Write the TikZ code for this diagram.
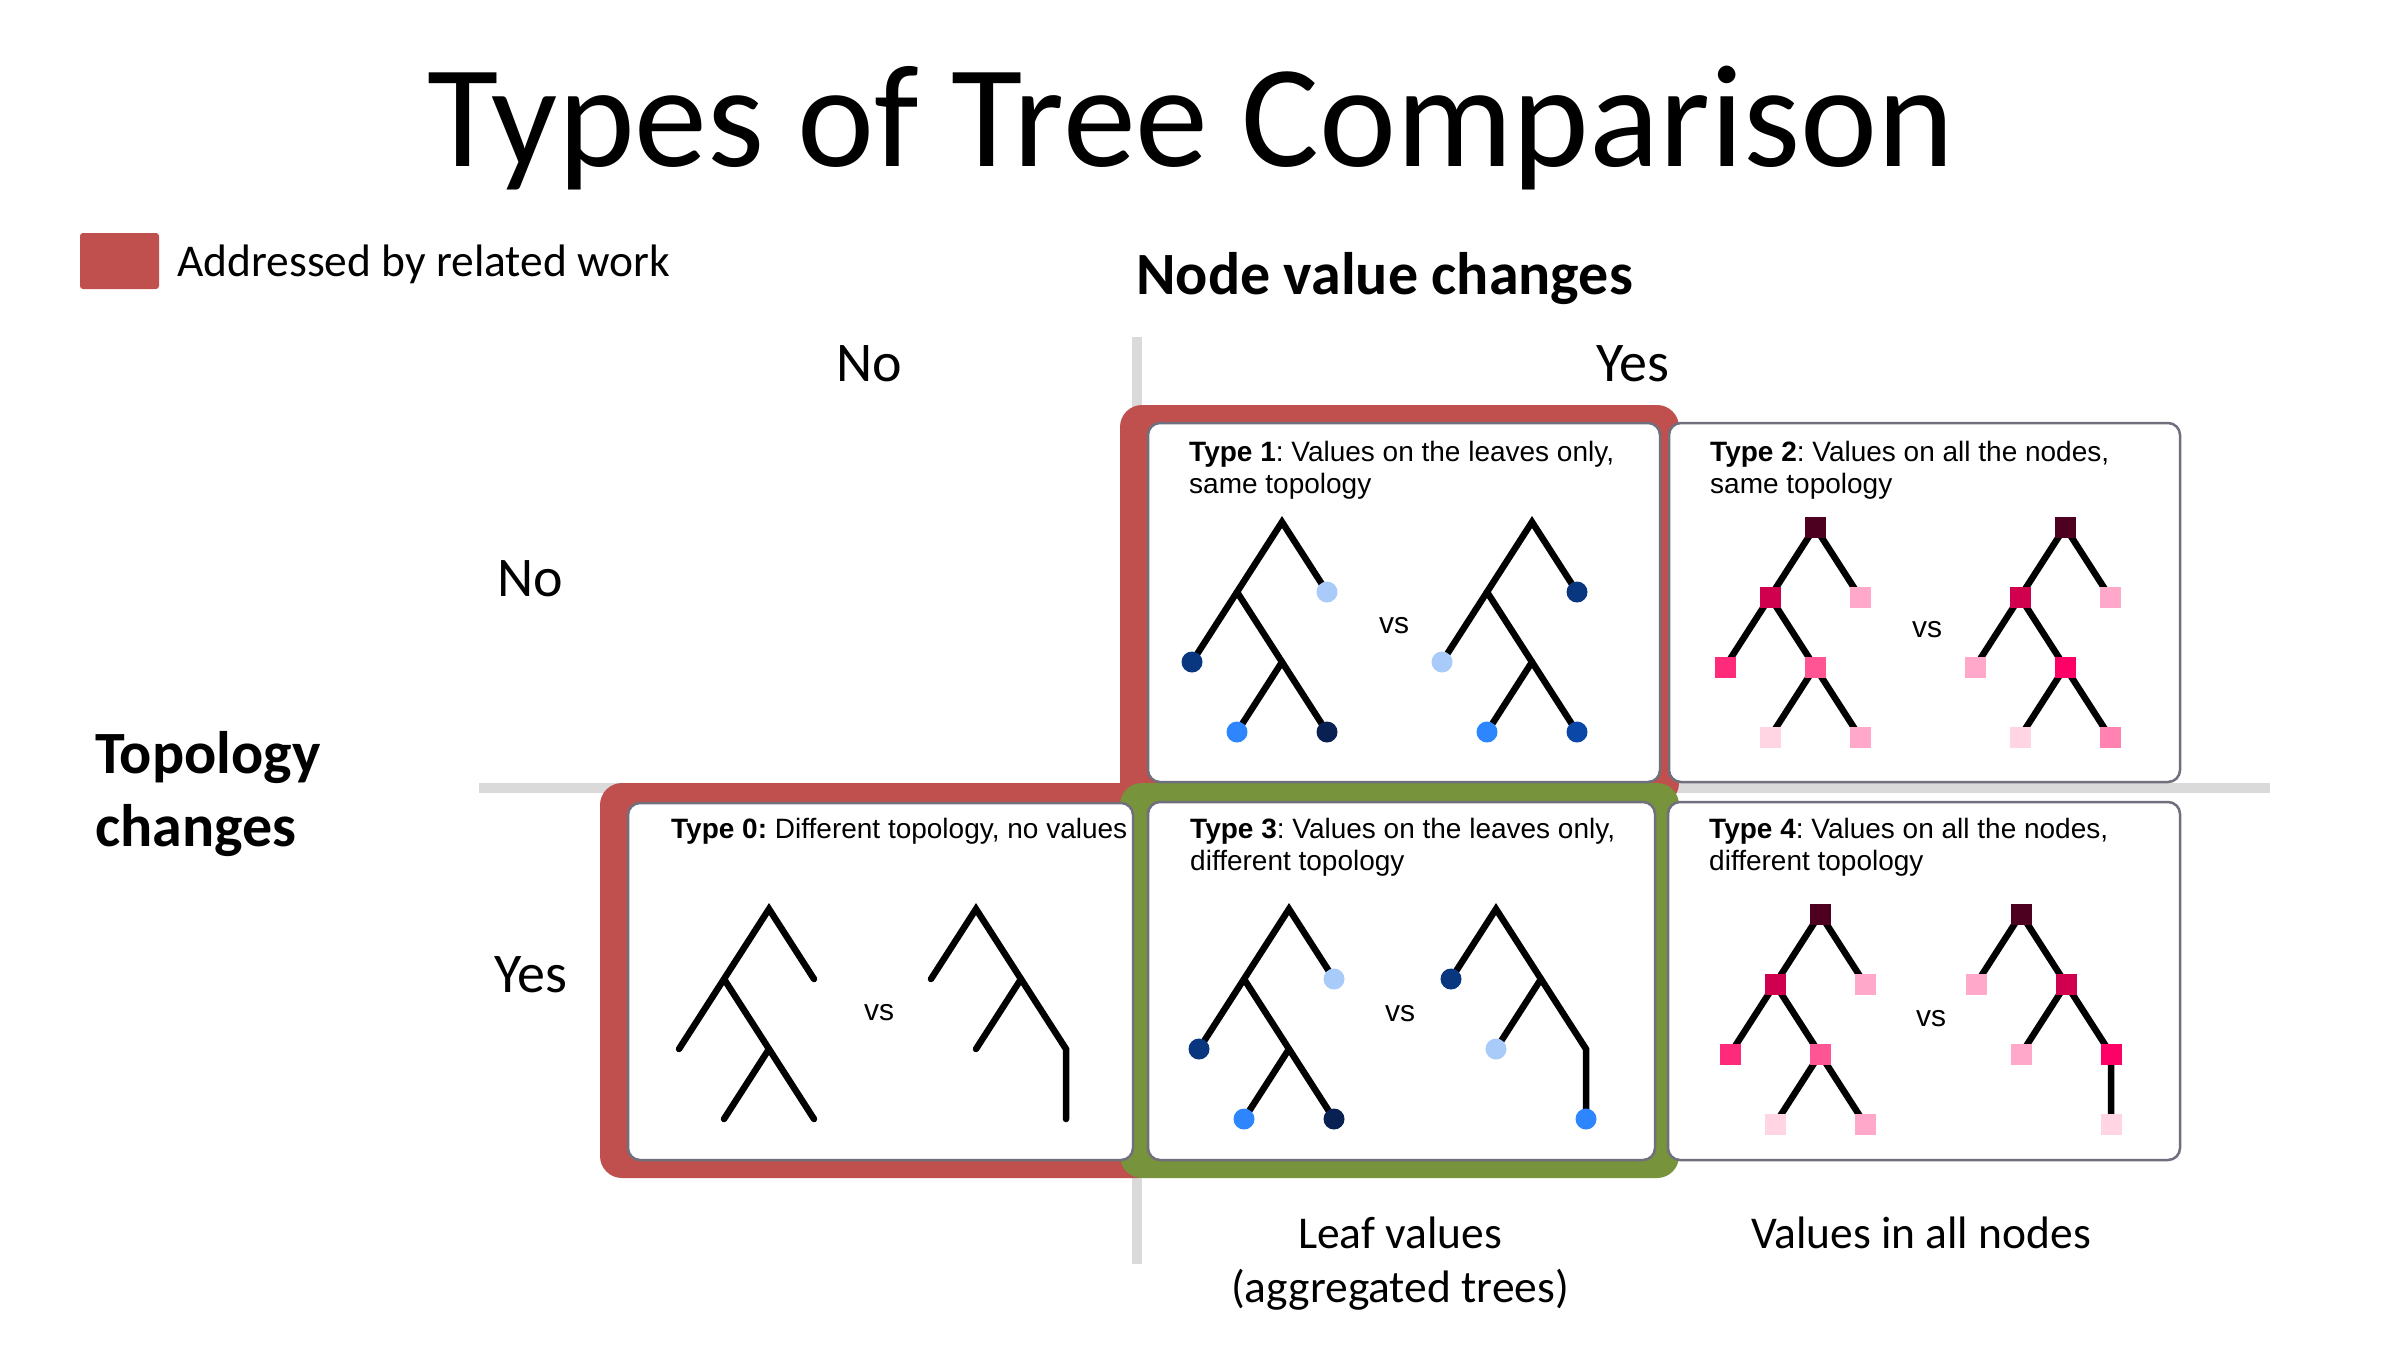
\documentclass[tikz,border=0pt]{standalone}
\usepackage{fontspec}
\setmainfont{Carlito}
\newfontfamily\panelfont{Liberation Sans}
\frenchspacing

\definecolor{relred}{HTML}{C0504D}
\definecolor{ourgreen}{HTML}{77933C}
\definecolor{axisgray}{HTML}{DADADA}
\definecolor{panelrim}{HTML}{6F6F7D}
\definecolor{blueL}{HTML}{A9CBFA}
\definecolor{blueB}{HTML}{2E86FF}
\definecolor{navyA}{HTML}{08367F}
\definecolor{navyB}{HTML}{082152}
\definecolor{navyC}{HTML}{0A47A6}
\definecolor{maroon}{HTML}{4D0020}
\definecolor{crimson}{HTML}{D1004F}
\definecolor{pinkL}{HTML}{FFA8C9}
\definecolor{pinkHot}{HTML}{FF2A7A}
\definecolor{pinkMed}{HTML}{FF5595}
\definecolor{pinkVL}{HTML}{FFD5E3}
\definecolor{pinkRed}{HTML}{FF0066}
\definecolor{pinkMid}{HTML}{FF82B0}

\newcommand\ttlsize{\fontsize{146}{172}\selectfont}
\newcommand\hdsize{\bfseries\fontsize{60}{72}\selectfont}
\newcommand\lblsize{\fontsize{56}{66}\selectfont}
\newcommand\smsize{\fontsize{45.5}{54}\selectfont}
\newcommand\boxsize{\panelfont\fontsize{28}{33}\selectfont}
\newcommand\vssize{\panelfont\fontsize{30}{36}\selectfont}

% balanced tree: root r; r -> a (inner), b (leaf); a -> c (leaf), d (inner); d -> e, f
\newcommand\fulltree[3]{%
  \coordinate (#1r) at (#2,#3);
  \coordinate (#1a) at (#2-45,#3+70);
  \coordinate (#1b) at (#2+45,#3+70);
  \coordinate (#1c) at (#2-90,#3+140);
  \coordinate (#1d) at (#2,#3+140);
  \coordinate (#1e) at (#2-45,#3+210);
  \coordinate (#1f) at (#2+45,#3+210);
  \draw[treeline] (#1c) -- (#1a) -- (#1r) -- (#1b);
  \draw[treeline] (#1a) -- (#1d) -- (#1f);
  \draw[treeline] (#1d) -- (#1e);}

% lopsided tree: root r; r -> l (leaf), m (inner); m -> n (leaf), p; p -> q (leaf)
\newcommand\sidetree[3]{%
  \coordinate (#1r) at (#2,#3);
  \coordinate (#1l) at (#2-45,#3+70);
  \coordinate (#1m) at (#2+45,#3+70);
  \coordinate (#1n) at (#2,#3+140);
  \coordinate (#1p) at (#2+90,#3+140);
  \coordinate (#1q) at (#2+90,#3+210);
  \draw[treeline] (#1l) -- (#1r) -- (#1m) -- (#1p) -- (#1q);
  \draw[treeline] (#1m) -- (#1n);}

\newcommand\dotat[2]{\node[leafdot, fill=#2] (#1v) at (#1) {};}
\newcommand\sqat[2]{\node[valsq, fill=#2] (#1v) at (#1) {};}

\begin{document}
\begin{tikzpicture}[x=1pt, y=-1pt,
  lab/.style={inner sep=0pt, anchor=base west},
  labc/.style={inner sep=0pt, anchor=base},
  axis/.style={draw=axisgray, line width=10pt},
  relframe/.style={fill=relred, rounded corners=22pt},
  ourframe/.style={fill=ourgreen, rounded corners=22pt},
  panel/.style={draw=panelrim, line width=2.5pt, fill=white, rounded corners=12pt},
  treeline/.style={line width=6.5pt, line cap=round, line join=miter, black},
  leafdot/.style={circle, inner sep=0pt, minimum size=21pt},
  valsq/.style={rectangle, inner sep=0pt, minimum size=21pt},
  vslabel/.style={inner sep=0pt, anchor=center, font=\vssize}]

\useasboundingbox[fill=white] (0,0) rectangle (2400,1350);

% title and legend
\node[labc] (title) at (1191,166) {\ttlsize Types of Tree Comparison};
\node[fill=relred, rounded corners=3pt, minimum width=79pt, minimum height=56pt, inner sep=0pt] (key) at (119.5,261) {};
\node[lab] (keytext) at (177,276) {\smsize Addressed by related work};

% axes
\draw[axis] (1137,337) -- (1137,1264);
\draw[axis] (479,788) -- (2270,788);

% axis headings
\node[lab] (colhead) at (1136,294) {\hdsize Node value changes};
\node[labc] (colno) at (869,381) {\lblsize No};
\node[labc] (colyes) at (1633,381) {\lblsize Yes};
\node[lab] (rowhead1) at (95,773) {\hdsize Topology};
\node[lab] (rowhead2) at (95,846) {\hdsize changes};
\node[lab] (rowno) at (497,596) {\lblsize No};
\node[lab] (rowyes) at (494,992) {\lblsize Yes};
\node[labc] (leafcap1) at (1400,1248) {\smsize Leaf values};
\node[labc] (leafcap2) at (1400,1302) {\smsize (aggregated trees)};
\node[labc] (allcap) at (1921,1248) {\smsize Values in all nodes};

% highlight frames
\path[relframe] (1120,405) rectangle (1679,805);
\path[relframe] (600,783) rectangle (1160,1178);
\path[ourframe] (1120,783) rectangle (1679,1178);

% panels
\path[panel] (628,803) rectangle (1133,1160);
\path[panel] (1148,423) rectangle (1660,782);
\path[panel] (1669,423) rectangle (2180,782);
\path[panel] (1148,802) rectangle (1655,1160);
\path[panel] (1668,802) rectangle (2180,1160);

% ---- Type 0
\node[lab] (cap0) at (671,838) {\boxsize\textbf{Type 0:} Different topology, no values};
\fulltree{z}{769}{909}
\sidetree{y}{976}{909}
\node[vslabel] (vs0) at (879,1013) {vs};

% ---- Type 1
\node[lab] (cap1a) at (1189,461) {\boxsize\textbf{Type 1}: Values on the leaves only,};
\node[lab] (cap1b) at (1189,493) {\boxsize same topology};
\fulltree{o}{1282}{522}
\fulltree{w}{1532}{522}
\node[vslabel] (vs1) at (1394,626) {vs};
\dotat{ob}{blueL} \dotat{oc}{navyA} \dotat{oe}{blueB} \dotat{of}{navyB}
\dotat{wb}{navyA} \dotat{wc}{blueL} \dotat{we}{blueB} \dotat{wf}{navyC}

% ---- Type 2
\node[lab] (cap2a) at (1710,461) {\boxsize\textbf{Type 2}: Values on all the nodes,};
\node[lab] (cap2b) at (1710,493) {\boxsize same topology};
\fulltree{t}{1815}{527}
\fulltree{u}{2065}{527}
\node[vslabel] (vs2) at (1927,630) {vs};
\sqat{tr}{maroon} \sqat{ta}{crimson} \sqat{tb}{pinkL} \sqat{tc}{pinkHot}
\sqat{td}{pinkMed} \sqat{te}{pinkVL} \sqat{tf}{pinkL}
\sqat{ur}{maroon} \sqat{ua}{crimson} \sqat{ub}{pinkL} \sqat{uc}{pinkL}
\sqat{ud}{pinkRed} \sqat{ue}{pinkVL} \sqat{uf}{pinkMid}

% ---- Type 3
\node[lab] (cap3a) at (1190,838) {\boxsize\textbf{Type 3}: Values on the leaves only,};
\node[lab] (cap3b) at (1190,870) {\boxsize different topology};
\fulltree{g}{1289}{909}
\sidetree{h}{1496}{909}
\node[vslabel] (vs3) at (1400,1014) {vs};
\dotat{gb}{blueL} \dotat{gc}{navyA} \dotat{ge}{blueB} \dotat{gf}{navyB}
\dotat{hl}{navyA} \dotat{hn}{blueL} \dotat{hq}{blueB}

% ---- Type 4
\node[lab] (cap4a) at (1709,838) {\boxsize\textbf{Type 4}: Values on all the nodes,};
\node[lab] (cap4b) at (1709,870) {\boxsize different topology};
\fulltree{k}{1820}{914}
\sidetree{m}{2021}{914}
\node[vslabel] (vs4) at (1931,1019) {vs};
\sqat{kr}{maroon} \sqat{ka}{crimson} \sqat{kb}{pinkL} \sqat{kc}{pinkHot}
\sqat{kd}{pinkMed} \sqat{ke}{pinkVL} \sqat{kf}{pinkL}
\sqat{mr}{maroon} \sqat{ml}{pinkL} \sqat{mm}{crimson} \sqat{mn}{pinkL}
\sqat{mp}{pinkRed} \sqat{mq}{pinkVL}

\end{tikzpicture}
\end{document}
